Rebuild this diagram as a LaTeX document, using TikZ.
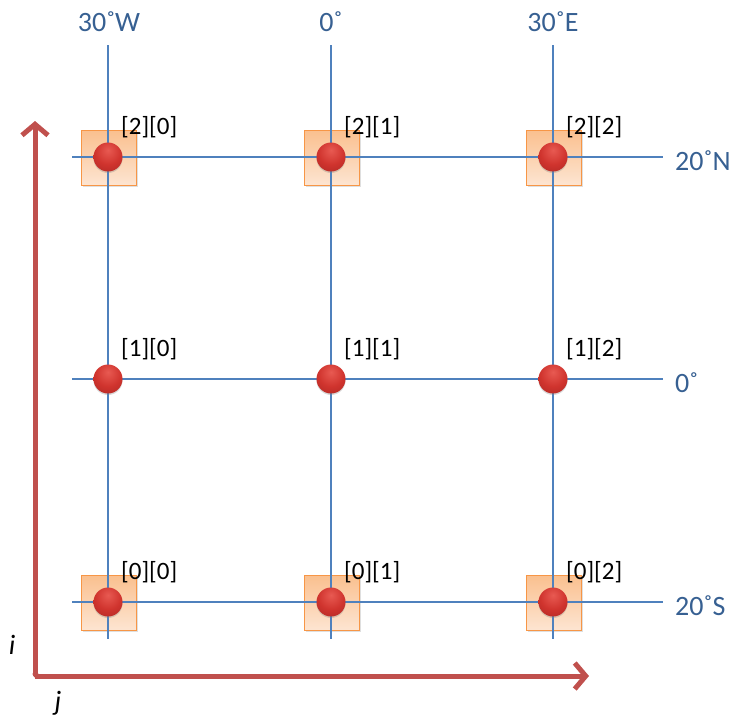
\documentclass[tikz,border=0pt]{standalone}
\usepackage{fontspec}
\setmainfont{Carlito}
\usetikzlibrary{arrows.meta,shadows}
\definecolor{gridblue}{HTML}{4F81BD}
\definecolor{labblue}{HTML}{376092}
\definecolor{axisred}{HTML}{C0504D}
\definecolor{boxedge}{HTML}{F79646}
\definecolor{boxtop}{HTML}{FAC08F}
\definecolor{boxbot}{HTML}{FDE5D2}
\definecolor{ballhi}{HTML}{E85A52}
\definecolor{ballmid}{HTML}{D0342E}
\definecolor{balllow}{HTML}{A82522}
\definecolor{balldark}{HTML}{701614}
\pgfdeclareradialshading{redball}{\pgfpoint{0bp}{12bp}}{color(0bp)=(ballhi); color(22bp)=(ballmid); color(46bp)=(balllow); color(62bp)=(balldark); color(100bp)=(balldark)}
\tikzset{
  gridline/.style={draw=gridblue, line width=1.1pt},
  cellbox/.style={draw=boxedge, line width=1.2pt, top color=boxtop, bottom color=boxbot,
    minimum size=55pt, inner sep=0pt, drop shadow={shadow xshift=1pt,shadow yshift=-1.5pt,opacity=0.25}},
  ballnode/.style={circle, shading=redball, minimum size=29pt, inner sep=0pt,
    drop shadow={shadow xshift=0pt,shadow yshift=-1.5pt,opacity=0.3}},
  idxlabel/.style={font=\fontsize{25}{28}\selectfont, text=black, inner sep=0pt},
  coordlabel/.style={font=\fontsize{28}{30}\selectfont, text=labblue, inner sep=0pt},
  axisline/.style={draw=axisred, line width=5pt, -{Straight Barb[length=11pt,width=26pt,line width=5pt]}},
  axislabel/.style={font=\fontsize{28}{30}\selectfont\itshape, inner sep=0pt}
}
\begin{document}
\begin{tikzpicture}[x=1pt,y=-1pt]
\useasboundingbox (0,0) rectangle (731,716);
% grid endpoints
\foreach \c/\x in {0/108,1/331,2/553}{
  \coordinate (vt\c) at (\x,45);
  \coordinate (vb\c) at (\x,639);
}
\foreach \r/\y in {2/157,1/379,0/602}{
  \coordinate (hl\r) at (72,\y);
  \coordinate (hr\r) at (663,\y);
}
% boxes (behind lines)
\foreach \r/\y in {2/157,0/602}{
  \foreach \c/\x in {0/108,1/331,2/553}{
    \node[cellbox] (box\r\c) at (\x+1,\y+1) {};
  }
}
% grid lines
\foreach \c in {0,1,2}{\draw[gridline] (vt\c) -- (vb\c);}
\foreach \r in {0,1,2}{\draw[gridline] (hl\r) -- (hr\r);}
% balls and labels
\foreach \r/\y in {2/157,1/379,0/602}{
  \foreach \c/\x in {0/108,1/331,2/553}{
    \node[ballnode] (ball\r\c) at (\x,\y) {};
    \node[idxlabel, anchor=base west] (lab\r\c) at (\x+13,\y-23) {[\r][\c]};
  }
}
% coordinate labels
\node[coordlabel] (lonW) at (109,22) {30˚W};
\node[coordlabel] (lon0) at (331,22) {0˚};
\node[coordlabel] (lonE) at (553,22) {30˚E};
\node[coordlabel, anchor=west] (latN) at (675,161) {20˚N};
\node[coordlabel, anchor=west] (lat0) at (675,383) {0˚};
\node[coordlabel, anchor=west] (latS) at (675,606) {20˚S};
% axes
\coordinate (origin) at (35,676);
\coordinate (itip) at (35,121);
\coordinate (jtip) at (589,676);
\draw[axisline] (origin) -- (itip);
\draw[axisline] (origin) -- (jtip);
\draw[draw=axisred, line width=5pt, line cap=round] (35,674) -- (37,676);
\node[axislabel] (ilab) at (12,645) {i};
\node[axislabel] (jlab) at (58,703) {j};
\end{tikzpicture}
\end{document}
